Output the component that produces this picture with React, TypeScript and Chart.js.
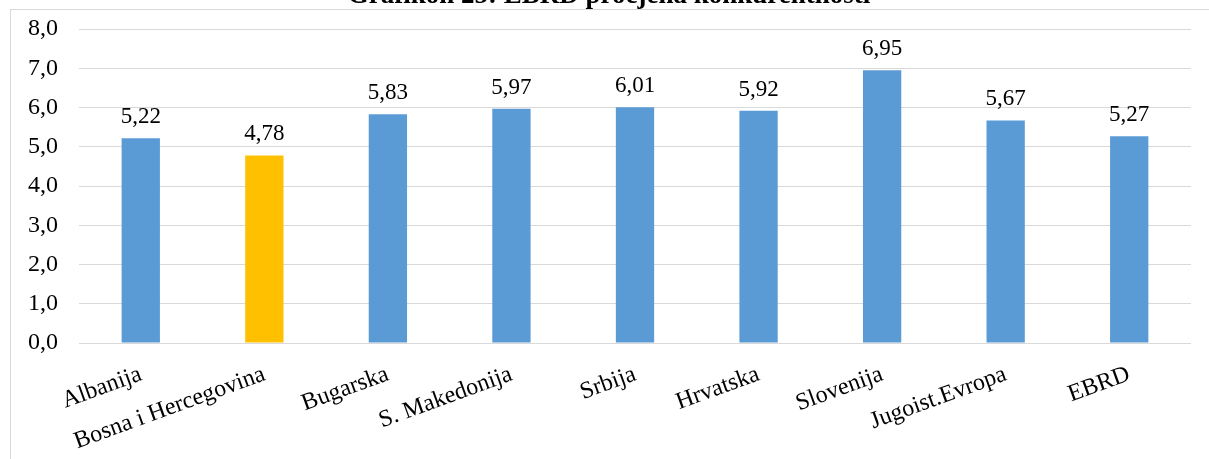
import React, { useEffect, useRef } from "react";
import { Chart, registerables } from "chart.js";

Chart.register(...registerables);

const categories = [
  "Albanija",
  "Bosna i Hercegovina",
  "Bugarska",
  "S. Makedonija",
  "Srbija",
  "Hrvatska",
  "Slovenija",
  "Jugoist.Evropa",
  "EBRD",
];
const values = [5.22, 4.78, 5.83, 5.97, 6.01, 5.92, 6.95, 5.67, 5.27];
const highlighted = "Bosna i Hercegovina";
const titleText = "Grafikon 25: EBRD procjena konkurentnosti";
const yMin = 0;
const yMax = 8;
const yStep = 1;

const FONT = "'Liberation Serif', 'Times New Roman', serif";

const fmt = (v: number, d: number) => v.toFixed(d).replace(".", ",");

const dataLabels = {
  id: "dataLabels",
  afterDatasetsDraw(chart: any) {
    const ctx = chart.ctx;
    const meta = chart.getDatasetMeta(0);
    ctx.save();
    ctx.font = `23px ${FONT}`;
    ctx.fillStyle = "#000";
    ctx.textAlign = "center";
    ctx.textBaseline = "alphabetic";
    meta.data.forEach((bar: any, i: number) => {
      ctx.fillText(fmt(values[i], 2), bar.x, bar.y - 15);
    });
    ctx.restore();
  },
};

export default function App() {
  const ref = useRef<HTMLCanvasElement | null>(null);
  useEffect(() => {
    if (!ref.current) return;
    const chart = new Chart(ref.current, {
      type: "bar",
      data: {
        labels: categories,
        datasets: [
          {
            data: values,
            backgroundColor: categories.map((c) =>
              c === highlighted ? "#FFC000" : "#5B9BD5"
            ),
            barPercentage: 0.31,
            categoryPercentage: 1,
          },
        ],
      },
      options: {
        animation: false,
        responsive: false,
        maintainAspectRatio: false,
        layout: { padding: { right: 18, bottom: 4, left: 27 } },
        plugins: {
          legend: { display: false },
          tooltip: { enabled: false },
          title: {
            display: true,
            text: titleText,
            color: "#000",
            font: { family: FONT, size: 27, weight: "bold" },
            padding: { top: 0, bottom: 16.6 },
          },
        },
        scales: {
          x: {
            grid: { display: false },
            border: { display: false },
            ticks: {
              color: "#000",
              font: { family: FONT, size: 24 },
              maxRotation: 20,
              minRotation: 20,
              autoSkip: false,
              padding: 9,
            },
          },
          y: {
            min: yMin,
            max: yMax,
            grid: { color: "#d9d9d9", lineWidth: 1, drawTicks: false },
            border: { display: false },
            afterFit: (scale: any) => {
              scale.width = 52;
            },
            ticks: {
              stepSize: yStep,
              color: "#000",
              font: { family: FONT, size: 24 },
              padding: 21,
              callback: (v: any) => fmt(Number(v), 1),
            },
          },
        },
      },
      plugins: [dataLabels],
    });
    return () => chart.destroy();
  }, []);

  return (
    <div
      style={{
        position: "fixed",
        left: 0,
        top: 0,
        width: 1209,
        height: 459,
        overflow: "hidden",
        background: "#fff",
      }}
    >
      <div
        style={{
          position: "absolute",
          left: 10,
          top: 9,
          width: 1220,
          height: 470,
          border: "1px solid #d9d9d9",
          boxSizing: "border-box",
        }}
      />
      <canvas
        ref={ref}
        width={1209}
        height={489}
        style={{ position: "absolute", left: 0, top: -20, width: 1209, height: 489 }}
      />
    </div>
  );
}
